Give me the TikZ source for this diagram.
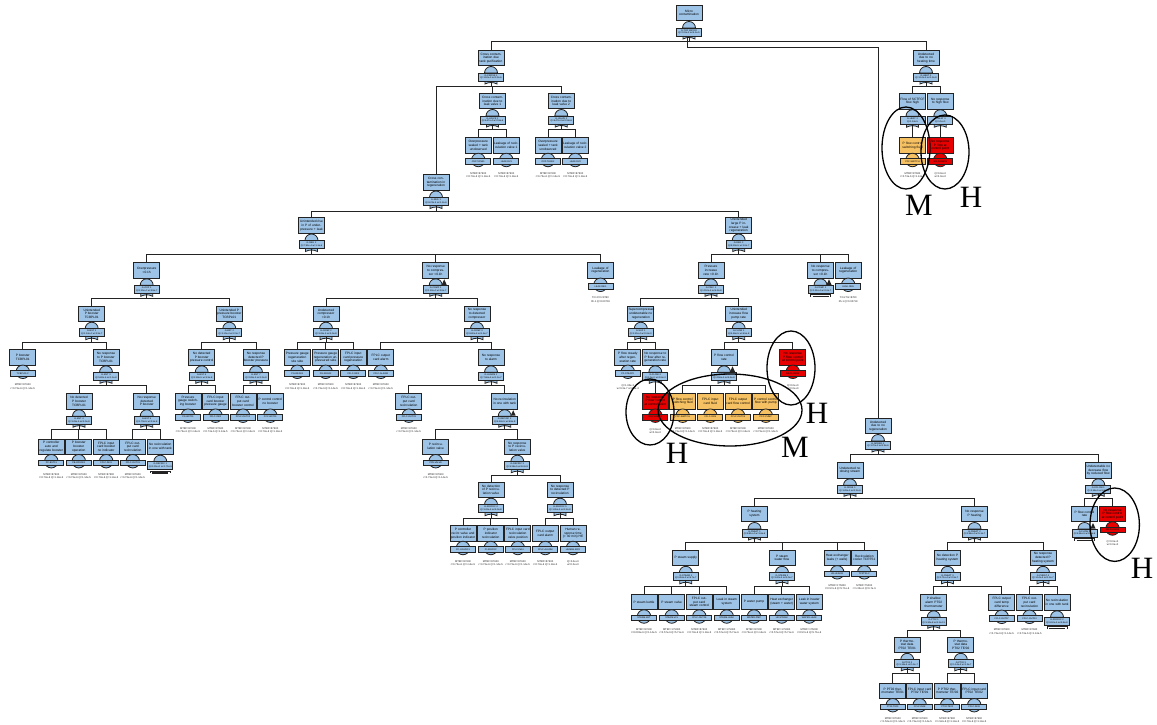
\documentclass[tikz,border=0pt]{standalone}
\usepackage{fontspec}
\setmainfont{Liberation Serif}
\newfontfamily\ftsans{Liberation Sans}

\definecolor{ftblue}{RGB}{157,195,230}
\definecolor{ftorange}{RGB}{246,193,98}
\definecolor{ftred}{RGB}{232,0,0}
\definecolor{ftline}{RGB}{35,35,35}

\tikzstyle{event}=[rectangle,draw=ftline,fill=ftblue,line width=0.9pt,minimum width=26pt,minimum height=15.5pt,text width=24.5pt,inner sep=0.4pt,align=center,font=\ftsans\fontsize{3.2}{3.7}\selectfont]
\tikzstyle{gatebox}=[rectangle,draw=ftline,fill=ftblue,line width=0.9pt,minimum width=25pt,minimum height=8pt,text width=24pt,inner sep=0.3pt,align=center,font=\ftsans\fontsize{2.3}{2.7}\selectfont]
\tikzstyle{idbox}=[rectangle,draw=ftline,fill=ftblue,line width=0.9pt,minimum width=25pt,minimum height=5.5pt,inner sep=0.2pt,font=\ftsans\fontsize{2.3}{2.7}\selectfont]
\tikzstyle{basic}=[circle,draw=ftline,fill=ftblue,line width=0.8pt,minimum size=13.5pt,inner sep=0pt]
\tikzstyle{rate}=[align=center,inner sep=0pt,text=ftline,font=\ftsans\fontsize{2.6}{3.1}\selectfont]
\tikzstyle{wire}=[draw=ftline,line width=0.9pt]
\tikzstyle{dome}=[fill=ftblue,draw=ftline,line width=0.8pt]
\tikzstyle{ring}=[draw=black,line width=1.3pt]
\tikzstyle{grade}=[inner sep=0pt,font=\fontsize{31}{31}\selectfont]
\tikzstyle{cold}=[fill=ftblue]
\tikzstyle{warm}=[fill=ftorange]
\tikzstyle{hot}=[fill=ftred]

% gate event: name, x, y, text, gate id
\newcommand{\ftgate}[5]{%
  \filldraw[dome] (#2-6.5,#3+15) arc[start angle=180,end angle=0,radius=6.5pt] -- cycle;
  \filldraw[dome] (#2-6,#3+22) -- (#2-6,#3+26) .. controls (#2-2,#3+24) and (#2+2,#3+24) .. (#2+6,#3+26) -- (#2+6,#3+22) -- cycle;
  \node[event] (#1) at (#2,#3) {#4};
  \node[gatebox] (#1g) at (#2,#3+19) {#5};
}
% basic event: colour, name, x, y, text, id, rate
\newcommand{\ftbasic}[7]{%
  \node[event,#1] (#2) at (#3,#4) {#5};
  \node[basic,#1] (#2c) at (#3,#4+14.5) {};
  \node[idbox,#1] (#2i) at (#3,#4+16) {#6};
  \node[rate] (#2r) at (#3,#4+29.5) {#7};
}
% transfer event: name, x, y, text, id
\newcommand{\ftxfer}[5]{%
  \filldraw[dome] (#2-6.5,#3+15) arc[start angle=180,end angle=0,radius=6.5pt] -- cycle;
  \node[event] (#1) at (#2,#3) {#4};
  \node[gatebox] (#1g) at (#2,#3+19) {#5};
  \draw[wire] (#2-10,#3+26.5) -- (#2-10,#3+24.6) -- (#2+10,#3+24.6) -- (#2+10,#3+26.5);
  \draw[wire,line width=1.2pt] (#2-8,#3+26.3) -- (#2+8,#3+26.3);
}
\newcommand{\fttri}[2]{\fill[ftline] (#1+6,#2+14.5) -- (#1+8.5,#2+9) -- (#1+11,#2+14.5) -- cycle;}
\newcommand{\mtbf}{MTBF=87600\\r=0.73e-6 Q=1.14e-5}
\newcommand{\mtbfb}{MTBF=175000\\r=0.57e-6 Q=5.71e-6}
\newcommand{\nilq}{Q=0.0e+0\\w=0.0e+0}

\begin{document}
\begin{tikzpicture}[x=1pt,y=-1pt]
    \fill[white] (0,0) rectangle (1157,725);
    \useasboundingbox (0,0) rectangle (1157,725);
    %Top event
    \ftgate{top}{689}{13}{Micro\\contamination}{G-TOP MICRO\\Q=2.31e-2 w=4.1e-5}
    %Cross contamination branch
    \ftgate{cpur}{491}{58}{Cross contamination due tank purification}{G-CROSS 1\\Q=1.52e-3 w=3.2e-6}
    \ftgate{cv1}{492.5}{101}{Cross contamination due to leak valve 1}{G-VALVE 1\\Q=6.47e-4 w=2.8e-6}
    \ftgate{cv2}{561.3}{101}{Cross contamination due to leak valve 2}{G-VALVE 2\\Q=6.47e-4 w=2.8e-6}
    \ftbasic{cold}{cv1a}{478.3}{145.5}{Overpressure sealed + tank unobserved}{OVP-TANK1}{\mtbf}
    \ftbasic{cold}{cv1b}{506.3}{145.5}{Leakage of recirculation valve 1}{LEAK-RV1}{\mtbf}
    \ftbasic{cold}{cv2a}{548}{145.5}{Overpressure sealed + tank unobserved}{OVP-TANK2}{\mtbf}
    \ftbasic{cold}{cv2b}{575.3}{145.5}{Leakage of recirculation valve 2}{LEAK-RV2}{\mtbf}
    \ftgate{creg}{436}{182.5}{Cross contamination in regeneration}{G-REG 1\\Q=8.74e-4 w=1.2e-6}
    \ftgate{unr}{311.5}{225.5}{Unintended rise in P of underpressure + leak}{G-REG 2\\Q=7.91e-4 w=1.1e-6}
    \ftgate{unl}{738.7}{225.5}{Unintended large P increase + leak regeneration}{G-REG 3\\Q=8.30e-5 w=1.0e-7}
    %Underpressure side
    \ftgate{ovp}{146.7}{270.3}{Overpressure\\<0.1h}{G-OVP 1\\Q=2.25e-4 w=3.9e-7}
    \ftgate{nrc}{435.7}{270.3}{No response to compressor <0.1h}{G-COMP 1\\Q=1.22e-4 w=2.0e-7}
    \fttri{435.7}{270.3}
    \ftbasic{cold}{lrg1}{600.5}{270.3}{Leakage of regeneration}{LEAK-REG}{f=0.2 fm=8760\\0h-1 Q=0.00719}
    \ftgate{ub1}{91.7}{313.7}{Unintended P booster TCBPL01}{G-BST 1\\Q=1.14e-4 w=2.3e-7}
    \ftgate{ub2}{229.3}{313.7}{Unintended P pressure booster TCBPL01}{G-BST 2\\Q=1.10e-4 w=2.0e-7}
    \ftbasic{cold}{pb}{22.8}{357.3}{P booster\\TCBPL01}{TCBPL01-F}{\mtbf}
    \ftgate{nrpb}{106}{357.3}{No response to P booster TCBPL01}{G-BST 3\\Q=5.82e-6 w=1.1e-8}
    \ftgate{ndpb}{79}{401.2}{No detected P booster TCBPL01}{G-BST 4\\Q=3.43e-5 w=5.0e-8}
    \ftgate{nrdpb}{146.7}{401.2}{No response detected P booster}{G-BST 5\\Q=1.70e-5 w=2.1e-8}
    \ftbasic{cold}{pba}{51.3}{446.7}{P controller auto and regulate booster}{PC-BST01}{\mtbf}
    \ftbasic{cold}{pbb}{78.8}{446.7}{P booster booster operation}{PB-OPER01}{\mtbf}
    \ftbasic{cold}{pbc}{106.2}{446.7}{FPLC input card booster no indicator}{FPLC-IN01}{\mtbf}
    \ftbasic{cold}{rc1}{132.8}{446.7}{FPLC output card recirculation}{FPLC-OUT01}{\mtbf}
    \ftxfer{nrt1}{160.3}{446.7}{No recirculation in one with tank}{G-RECIRC 1\\Q=0.00e+0 w=1.70e-5}
    \ftgate{ndbp}{201.7}{357.3}{No detected P booster pressure control}{G-BST 6\\Q=2.28e-5 w=3.3e-8}
    \ftgate{nrbp}{256}{357.3}{No response detected P booster pressure}{G-BST 7\\Q=2.28e-5 w=3.3e-8}
    \ftbasic{cold}{pga}{188}{401.2}{Pressure gauge switching booster}{PG-BST01}{\mtbf}
    \ftbasic{cold}{pgb}{215.5}{401.2}{FPLC input card booster pressure gauge}{FPLC-IN02}{\mtbf}
    \ftbasic{cold}{ocb}{243}{401.2}{FPLC output card booster control}{FPLC-OUT02}{\mtbf}
    \ftbasic{cold}{pcb}{270.3}{401.2}{P control control no booster}{PCC-BST01}{\mtbf}
    %Compressor side
    \ftgate{ucmp}{326}{313.7}{Undetected compressor\\<0.1h}{G-COMP 2\\Q=3.43e-5 w=5.0e-8}
    \ftgate{nrdc}{477}{313.7}{No response to detected compressor}{G-COMP 3\\Q=8.80e-5 w=1.5e-7}
    \ftbasic{cold}{pgs}{297.3}{357.3}{Pressure gauge regeneration site side}{PG-REG01}{\mtbf}
    \ftbasic{cold}{pgu}{325.7}{357.3}{Pressure gauge regeneration unpressured side}{PG-REG02}{\mtbf}
    \ftbasic{cold}{ipr}{353.3}{357.3}{FPLC input card pressure regeneration}{FPLC-IN03}{\mtbf}
    \ftbasic{cold}{oal1}{380.8}{357.3}{FPLC output card alarm}{FPLC-ALARM}{\mtbf}
    \ftgate{nral}{491}{357.3}{No response to alarm}{G-ALARM 1\\Q=7.66e-5 w=1.1e-7}
    \ftbasic{cold}{rc2}{408.8}{401.2}{FPLC output card recirculation}{FPLC-OUT03}{\mtbf}
    \ftgate{nrrt}{504.7}{401.2}{No recirculation in one with tank}{G-RECIRC 2\\Q=6.52e-5 w=9.8e-8}
    \fttri{504.7}{401.2}
    \ftbasic{cold}{prv}{435.7}{446.7}{P recirculation valve}{PRV-VALVE}{\mtbf}
    \ftgate{nrrv}{517.3}{446.7}{No response to P recirculation valve}{G-RECIRC 3\\Q=5.38e-5 w=8.2e-8}
    \ftgate{ndrv}{491}{489.7}{No detection of P recirculation valve}{G-RECIRC 4\\Q=3.43e-5 w=5.0e-8}
    \ftgate{nrdrv}{560}{489.7}{No response to detected P recirculation}{G-RECIRC 5\\Q=1.95e-5 w=3.2e-8}
    \ftbasic{cold}{rva}{463}{533.5}{P controller recirc valve and position indicator}{PC-VALVE01}{\mtbf}
    \ftbasic{cold}{rvb}{490.8}{533.5}{P position indicator recirculation}{PI-RECIRC}{\mtbf}
    \ftbasic{cold}{rvc}{517.8}{533.5}{FPLC input card recirculation valve position}{FPLC-IN04}{\mtbf}
    \ftbasic{cold}{oal2}{545.3}{533.5}{FPLC output card alarm}{FPLC-ALARM}{\mtbf}
    \ftbasic{cold}{hum}{573}{533.5}{Human response time (> 30 min) HE}{HUMAN-ERR}{\nilq}
    %Large increase side
    \ftgate{pir}{711}{270.3}{Pressure increase rate <0.1h}{G-PINC 1\\Q=4.10e-5 w=6.2e-8}
    \ftxfer{nrc2}{820.5}{270.3}{No response to compressor <0.1h}{G-COMP 1\\Q=1.22e-4 w=2.0e-7}
    \fttri{820.5}{270.3}
    \ftbasic{cold}{lrg2}{848.2}{270.3}{Leakage of regeneration}{LEAK-REG}{f=0.2 fm=8760\\0h-1 Q=0.00719}
    \ftgate{sup}{640.8}{313.7}{Supercompressed undetectable no regeneration}{G-SUP 1\\Q=2.10e-4 w=0.0e+0}
    \ftgate{uifr}{738.7}{313.7}{Unintended increase flow pump rate}{G-FLOW 1\\Q=4.56e-5 w=6.5e-8}
    \ftbasic{cold}{pfs}{627.8}{357.3}{P flow steady after regeneration rate}{PF-STEADY}{Q=1.00e-3\\w=0.3e-7 a=2.1e-4}
    \ftgate{nrpf}{655.3}{357.3}{No response to P flow after regeneration rate}{G-FLOW 2\\Q=0.0e+0 w=0.0e+0}
    \ftbasic{hot}{rb1}{655.3}{401.2}{No response P flow control at control point}{NR-FLOW01}{\nilq}
    \ftgate{pfc}{724}{357.3}{P flow control\\rate}{G-FLOW 3\\Q=4.56e-5 w=6.5e-8}
    \fttri{724}{357.3}
    \ftbasic{hot}{rb2}{792.8}{357.3}{No response P flow control at control point}{NR-FLOW02}{\nilq}
    \ftbasic{warm}{oa}{682.7}{401.2}{P flow control switching fluid}{PFC-SWITCH}{\mtbf}
    \ftbasic{warm}{ob}{710.3}{401.2}{FPLC input card fluid}{FPLC-IN05}{\mtbf}
    \ftbasic{warm}{oc}{738}{401.2}{FPLC output card flow control}{FPLC-OUT05}{\mtbf}
    \ftbasic{warm}{od}{765.8}{401.2}{P control control flow with pump}{PCC-PUMP}{\mtbf}
    %Heating time branch
    \ftgate{und1}{926}{58}{Undetected due to no heating time}{G-HEAT 1\\Q=1.14e-5 w=1.2e-8}
    \ftgate{flh}{912.5}{101.2}{Flow of SCTFCF flow high}{G-HEAT 2\\Q=1.14e-5}
    \ftgate{nrhf}{940.3}{101.2}{No response to high flow}{G-HEAT 3\\Q=0.0e+0}
    \ftbasic{warm}{fo}{912.5}{145.5}{P flow control switching fluid}{PFC-SWITCH}{\mtbf}
    \ftbasic{hot}{fr}{940.3}{145.5}{No response P flow at control point}{NR-FLOW03}{\nilq}
    %Regeneration branch
    \ftgate{und2}{878}{426}{Undetected due to no regeneration}{G-NOREG 1\\Q=1.70e-3 w=2.9e-6}
    \ftgate{udos}{850}{470.3}{Undetected no dosing stream}{G-DOSE 1\\Q=1.28e-3 w=2.2e-6}
    \ftgate{udf}{1098.3}{470.3}{Undetectable no decrease flow by reduced flow}{G-DFLOW 1\\Q=4.56e-5 w=6.5e-8}
    \ftgate{ph}{754.5}{514}{P heating\\system}{G-PHEAT 1\\Q=9.81e-4 w=1.6e-6}
    \ftgate{nrph}{974.5}{514}{No response P heating}{G-PHEAT 2\\Q=2.96e-4 w=5.1e-7}
    \ftgate{pss}{685.8}{557.8}{P steam supply}{G-STEAM 1\\Q=4.56e-4 w=6.7e-7}
    \ftgate{pswf}{782}{557.8}{P steam water flow}{G-STEAM 2\\Q=3.42e-4 w=5.0e-7}
    \ftbasic{cold}{hx}{837.2}{557.8}{Heat exchanger leaks (+ walls)}{HX-LEAK01}{\mtbfb}
    \ftbasic{cold}{rcp}{864.3}{557.8}{Recirculation cooler TCRTS1}{TCRTS1-F}{MTBF=75000\\r=1.33e-6 Q=6.7e-6}
    \ftbasic{cold}{sa}{644}{602}{P steam kettle}{STEAM-KET}{MTBF=87600\\r=0.003e-6 Q=1.14e-5}
    \ftbasic{cold}{sb}{671.7}{602}{P steam valve}{STEAM-VLV}{\mtbfb}
    \ftbasic{cold}{sc}{699.3}{602}{FPLC output card steam control}{FPLC-OUT06}{\mtbf}
    \ftbasic{cold}{sd}{726.7}{602}{Leak in steam system}{STEAM-LEAK}{\mtbfb}
    \ftbasic{cold}{wa}{754}{602}{P water pump}{WATER-PMP}{\mtbf}
    \ftbasic{cold}{wb}{781.7}{602}{Heat exchanger (steam + water)}{HX-STEAM}{\mtbfb}
    \ftbasic{cold}{wc}{809.3}{602}{Leak in heater water system}{WATER-LEAK}{\mtbfb}
    \ftgate{ndph}{947.5}{557.8}{No detection P heating system}{G-PHEAT 3\\Q=1.71e-4 w=2.9e-7}
    \ftgate{nrdph}{1043}{557.8}{No response detected P heating system}{G-PHEAT 4\\Q=1.14e-4 w=1.2e-7}
    \ftgate{psa}{933.7}{602.3}{P shallow alarm PT02 thermometer}{G-PT02 1\\Q=1.30e-8 w=2.3e-11}
    \ftbasic{cold}{plct}{1001.7}{602.3}{FPLC output card temp difference}{FPLC-OUT07}{\mtbf}
    \ftgate{pt1}{907.2}{644.8}{P thermostat data PT02 TE/01}{G-PT02 2\\Q=1.14e-4 w=1.3e-7}
    \ftgate{pt2}{960.8}{644.8}{P thermostat data PT02 TE/02}{G-PT02 3\\Q=1.14e-4 w=1.3e-7}
    \ftbasic{cold}{ta}{892.8}{690.7}{P PT02 thermometer TE/01}{PT02-TE01}{MTBF=87600\\r=1.52e-6 Q=1.14e-5}
    \ftbasic{cold}{tb}{919.7}{690.7}{FPLC input card PT02 TE/01}{FPLC-IN08}{\mtbf}
    \ftbasic{cold}{tc}{947.2}{690.7}{P PT02 thermometer TE/02}{PT02-TE02}{MTBF=87600\\r=1.52e-6 Q=1.14e-5}
    \ftbasic{cold}{td}{974.2}{690.7}{FPLC input card PT02 TE/02}{FPLC-IN09}{\mtbf}
    \ftbasic{cold}{rc3}{1029.5}{602.3}{FPLC output card recirculation}{FPLC-OUT03}{\mtbf}
    \ftxfer{nrt2}{1057}{602.3}{No recirculation in one with tank}{G-RECIRC 2\\Q=6.52e-5 w=9.8e-8}
    \ftxfer{pfc2}{1084.5}{514}{P flow control\\rate}{G-FLOW 3\\Q=4.56e-5 w=6.5e-8}
    \fttri{1084.5}{514}
    \ftbasic{hot}{rb3}{1112.5}{514}{No response P flow control at control point}{NR-FLOW04}{\nilq}
    %Connectors
    \foreach \p/\c in {top/cpur, top/und1, cpur/cv1, cpur/cv2, cpur/creg,
                       cv1/cv1a, cv1/cv1b, cv2/cv2a, cv2/cv2b, creg/unr, creg/unl,
                       unr/ovp, unr/nrc, unr/lrg1, unl/pir, unl/nrc2, unl/lrg2,
                       ovp/ub1, ovp/ub2, ub1/pb, ub1/nrpb, nrpb/ndpb, nrpb/nrdpb,
                       ndpb/pba, ndpb/pbb, ndpb/pbc, nrdpb/rc1, nrdpb/nrt1,
                       ub2/ndbp, ub2/nrbp, ndbp/pga, ndbp/pgb, nrbp/ocb, nrbp/pcb,
                       nrc/ucmp, nrc/nrdc, ucmp/pgs, ucmp/pgu, ucmp/ipr,
                       nrdc/oal1, nrdc/nral, nral/rc2, nral/nrrt, nrrt/prv, nrrt/nrrv,
                       nrrv/ndrv, nrrv/nrdrv, ndrv/rva, ndrv/rvb, ndrv/rvc,
                       nrdrv/oal2, nrdrv/hum, pir/sup, pir/uifr, sup/pfs, sup/nrpf,
                       uifr/pfc, uifr/rb2, pfc/oa, pfc/ob, pfc/oc, pfc/od,
                       und1/flh, und1/nrhf, und2/udos, und2/udf, udos/ph, udos/nrph,
                       ph/pss, ph/pswf, ph/hx, ph/rcp, pss/sa, pss/sb, pss/sc, pss/sd,
                       pswf/wa, pswf/wb, pswf/wc, nrph/ndph, nrph/nrdph,
                       ndph/psa, ndph/plct, psa/pt1, psa/pt2,
                       pt1/ta, pt1/tb, pt2/tc, pt2/td, nrdph/rc3, nrdph/nrt2,
                       udf/pfc2, udf/rb3}
        \draw[wire] (\p g.south) -- ++(0,5) -| (\c.north);
    \foreach \p/\c in {flh/fo, nrhf/fr, nrpf/rb1}
        \draw[wire] (\p g.south) -- (\c.north);
    \draw[wire] ([xshift=-1.5pt]topg.south) -- ++(0,11) -| (und2.north);
    %Risk rings
    \draw[ring] (906,148) ellipse [x radius=24pt, y radius=41pt];
    \draw[ring] (945,152) ellipse [x radius=24pt, y radius=37pt];
    \draw[ring] (791,368) ellipse [x radius=24pt, y radius=37pt];
    \draw[ring] (650,412) ellipse [x radius=24pt, y radius=33pt];
    \draw[ring] (730,410) ellipse [x radius=72pt, y radius=36pt];
    \draw[ring] (1114.7,524.7) ellipse [x radius=24.7pt, y radius=36.7pt];
    \node[grade] (m1) at (919,205) {M};
    \node[grade] (h1) at (971,197) {H};
    \node[grade] (h2) at (817,413) {H};
    \node[grade] (h3) at (677,453) {H};
    \node[grade] (m2) at (795,447) {M};
    \node[grade] (h4) at (1142,568) {H};
\end{tikzpicture}
\end{document}
